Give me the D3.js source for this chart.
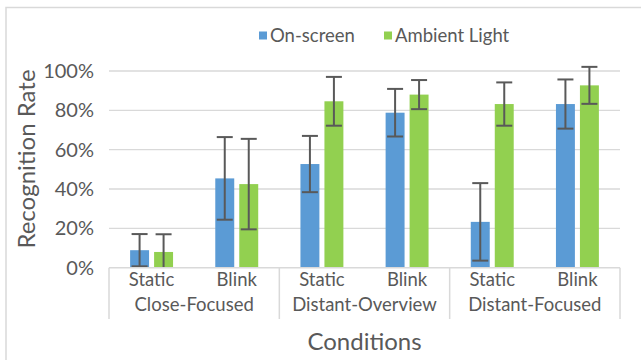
<!DOCTYPE html>
<html>
<head>
<meta charset="utf-8">
<script src="https://cdn.jsdelivr.net/npm/d3@7"></script>
<style>
  html, body { margin: 0; padding: 0; background: #fff; }
  svg { display: block; font-family: Lato, "Noto Sans", sans-serif; }
</style>
</head>
<body>
<svg id="chart" width="641" height="360"></svg>
<script>
// Chart data
const groups = ["Close-Focused", "Distant-Overview", "Distant-Focused"];
const conditions = ["Static", "Blink"];
const seriesNames = ["On-screen", "Ambient Light"];
const onScreen = [8.9, 45.4, 52.7, 78.8, 23.3, 83.2];
const ambientLight = [8.0, 42.5, 84.6, 88.0, 83.2, 92.7];
const onScreenErr = [8.2, 21.0, 14.3, 12.1, 19.7, 12.5];
const ambientLightErr = [9.0, 23.0, 12.4, 7.4, 11.0, 9.4];
const yTicks = [0, 20, 40, 60, 80, 100];

const colors = ["#5b9bd5", "#92d050"];
const textColor = "#595959";
const gridColor = "#d9d9d9";

const svg = d3.select("#chart");

// outer chart border (runs off the right and bottom of the picture)
svg.append("rect")
    .attr("x", 6).attr("y", 7.5)
    .attr("width", 700).attr("height", 400)
    .attr("fill", "none")
    .attr("stroke", gridColor)
    .attr("stroke-width", 1.5);

const plot = { left: 109, right: 620, top: 71, bottom: 267.7 };

// one slot per group/condition pair
const slots = [];
groups.forEach((g, gi) => conditions.forEach((c, ci) => {
    slots.push({ key: g + "|" + c, group: g, cond: c, i: gi * conditions.length + ci });
}));

const x0 = d3.scaleBand()
    .domain(slots.map(d => d.key))
    .range([plot.left, plot.right])
    .paddingInner(0).paddingOuter(0);

const x1 = d3.scaleBand()
    .domain(seriesNames)
    .range([0, x0.bandwidth()])
    .paddingInner(0.21)
    .paddingOuter(0.88);

const y = d3.scaleLinear()
    .domain([0, 100])
    .range([plot.bottom, plot.top]);

const gx = d3.scaleBand()
    .domain(groups)
    .range([plot.left, plot.right]);

// gridlines
svg.append("g")
    .selectAll("line")
    .data(yTicks.filter(t => t > 0))
    .join("line")
    .attr("x1", plot.left).attr("x2", plot.right)
    .attr("y1", d => y(d)).attr("y2", d => y(d))
    .attr("stroke", gridColor)
    .attr("stroke-width", 1.3);

// y tick labels
svg.append("g")
    .selectAll("text")
    .data(yTicks)
    .join("text")
    .attr("x", 94)
    .attr("y", d => y(d))
    .attr("dy", "0.35em")
    .attr("text-anchor", "end")
    .attr("fill", textColor)
    .style("font-size", "20px")
    .text(d => d + "%");

// bars
const seriesData = [
    { name: seriesNames[0], values: onScreen, err: onScreenErr, color: colors[0] },
    { name: seriesNames[1], values: ambientLight, err: ambientLightErr, color: colors[1] }
];

const barData = [];
seriesData.forEach(s => slots.forEach(slot => {
    barData.push({ slot: slot.key, series: s.name, value: s.values[slot.i], err: s.err[slot.i], color: s.color });
}));

svg.append("g")
    .selectAll("rect")
    .data(barData)
    .join("rect")
    .attr("x", d => x0(d.slot) + x1(d.series))
    .attr("width", x1.bandwidth())
    .attr("y", d => y(d.value))
    .attr("height", d => y(0) - y(d.value))
    .attr("fill", d => d.color);

// error bars
const capHalf = 8;
const eb = svg.append("g")
    .selectAll("g")
    .data(barData)
    .join("g")
    .attr("stroke", "#595959")
    .attr("stroke-width", 2);

eb.append("line")
    .attr("x1", d => x0(d.slot) + x1(d.series) + x1.bandwidth() / 2)
    .attr("x2", d => x0(d.slot) + x1(d.series) + x1.bandwidth() / 2)
    .attr("y1", d => y(Math.max(0, d.value - d.err)))
    .attr("y2", d => y(d.value + d.err));

eb.append("line")
    .attr("x1", d => x0(d.slot) + x1(d.series) + x1.bandwidth() / 2 - capHalf)
    .attr("x2", d => x0(d.slot) + x1(d.series) + x1.bandwidth() / 2 + capHalf)
    .attr("y1", d => y(d.value + d.err))
    .attr("y2", d => y(d.value + d.err));

eb.filter(d => d.value - d.err > 0).append("line")
    .attr("x1", d => x0(d.slot) + x1(d.series) + x1.bandwidth() / 2 - capHalf)
    .attr("x2", d => x0(d.slot) + x1(d.series) + x1.bandwidth() / 2 + capHalf)
    .attr("y1", d => y(d.value - d.err))
    .attr("y2", d => y(d.value - d.err));

// category axis: baseline + group separators
const axisBottom = 319;
svg.append("line")
    .attr("x1", plot.left).attr("x2", plot.right)
    .attr("y1", plot.bottom).attr("y2", plot.bottom)
    .attr("stroke", gridColor)
    .attr("stroke-width", 1.5);

const sepX = groups.map(g => gx(g)).concat([plot.right]);
svg.append("g")
    .selectAll("line")
    .data(sepX)
    .join("line")
    .attr("x1", d => d).attr("x2", d => d)
    .attr("y1", plot.bottom).attr("y2", axisBottom)
    .attr("stroke", gridColor)
    .attr("stroke-width", 1.5);

// condition labels
svg.append("g")
    .selectAll("text")
    .data(slots)
    .join("text")
    .attr("x", d => x0(d.key) + x0.bandwidth() / 2)
    .attr("y", 280)
    .attr("dy", "0.35em")
    .attr("text-anchor", "middle")
    .attr("fill", textColor)
    .style("font-size", "18.5px")
    .text(d => d.cond);

// group labels
svg.append("g")
    .selectAll("text")
    .data(groups)
    .join("text")
    .attr("x", d => gx(d) + gx.bandwidth() / 2)
    .attr("y", 305)
    .attr("dy", "0.35em")
    .attr("text-anchor", "middle")
    .attr("fill", textColor)
    .style("font-size", "18.5px")
    .text(d => d);

// axis titles
svg.append("text")
    .attr("x", (plot.left + plot.right) / 2)
    .attr("y", 342)
    .attr("dy", "0.35em")
    .attr("text-anchor", "middle")
    .attr("fill", textColor)
    .style("font-size", "24px")
    .text("Conditions");

svg.append("text")
    .attr("transform", "translate(27,159) rotate(-90)")
    .attr("dy", "0.35em")
    .attr("text-anchor", "middle")
    .attr("fill", textColor)
    .style("font-size", "24px")
    .text("Recognition Rate");

// legend
const legendX = [259, 384];
const legend = svg.append("g")
    .selectAll("g")
    .data(seriesData)
    .join("g")
    .attr("transform", (d, i) => "translate(" + legendX[i] + ",35.5)");

legend.append("rect")
    .attr("x", 0).attr("y", -4)
    .attr("width", 8).attr("height", 8)
    .attr("fill", d => d.color);

legend.append("text")
    .attr("x", 11)
    .attr("dy", "0.35em")
    .attr("fill", textColor)
    .style("font-size", "18.5px")
    .text(d => d.name);
</script>
</body>
</html>
